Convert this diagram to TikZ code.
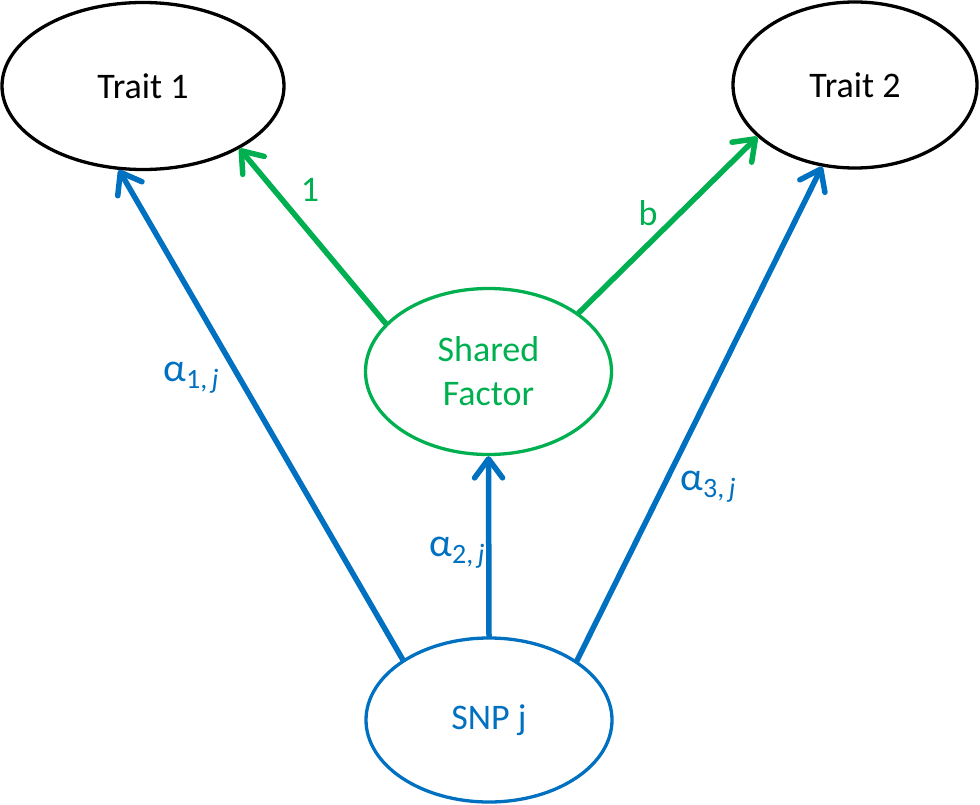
\documentclass[tikz,border=0pt]{standalone}
\usepackage{fontspec}
\setmainfont{Carlito}
\usetikzlibrary{shapes.geometric,arrows.meta}
\definecolor{myblue}{HTML}{0070C0}
\definecolor{mygreen}{HTML}{00B050}
\newcommand{\alab}[1]{{\fontsize{40}{40}\selectfont α}\raisebox{-0.4ex}{\fontsize{28}{28}\selectfont #1,\,\textit{j}}}
\tikzset{
  oval/.style={ellipse, draw, line width=3.3pt, inner sep=0pt, font=\fontsize{36}{44}\selectfont, align=center},
  arr/.style={line width=5.5pt, line cap=round, -{Straight Barb[length=19pt,width=28pt,line cap=round,line join=round]}},
  lab/.style={font=\fontsize{36}{44}\selectfont, inner sep=0pt}
}
\begin{document}
\begin{tikzpicture}[x=1pt,y=-1pt]
\useasboundingbox (0,0) rectangle (980,805);
\node[oval, minimum width=282pt, minimum height=167pt] (t1) at (143,86) {Trait 1};
\node[oval, minimum width=244pt, minimum height=166pt] (t2) at (855,85) {Trait 2};
\node[oval, draw=mygreen, text=mygreen, minimum width=246pt, minimum height=166pt] (sf) at (488.5,371.5) {Shared\\Factor};
\node[oval, draw=myblue, text=myblue, minimum width=246pt, minimum height=164pt] (snp) at (489,720) {SNP j};
\draw[arr, mygreen] (sf.155.6) -- (t1.327.4);
\draw[arr, mygreen] (sf.33.5) -- (t2.208.6);
\draw[arr, myblue] (snp.145) -- (t1.254);
\draw[arr, myblue] (snp.34.6) -- (t2.248.8);
\draw[arr, myblue] (snp.north) -- (sf.south);
\node[lab, text=mygreen] (l1) at (310,190) {1};
\node[lab, text=mygreen] (lb) at (648,213) {b};
\node[lab, text=myblue] (a1) at (191,378) {\alab{1}};
\node[lab, text=myblue] (a2) at (457,553) {\alab{2}};
\node[lab, text=myblue] (a3) at (708,487) {\alab{3}};
\end{tikzpicture}
\end{document}
